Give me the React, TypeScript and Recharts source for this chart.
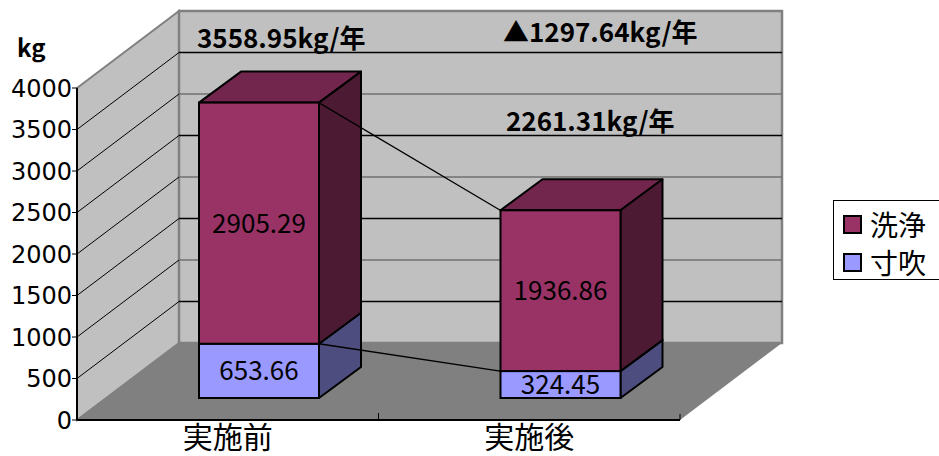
import React from 'react';
import { BarChart, Bar, XAxis, YAxis, ReferenceArea, ReferenceLine, LabelList } from 'recharts';

// ---- data ----
const categories = ['実施前', '実施後'];
const senjouValues = [2905.29, 1936.86]; // 洗浄
const sunbukiValues = [653.66, 324.45]; // 寸吹
const yTicks = [0, 500, 1000, 1500, 2000, 2500, 3000, 3500, 4000];
const gridValues = [500, 1000, 1500, 2000, 2500, 3000, 3500];
const legendNames = ['洗浄', '寸吹'];
const annotationTexts = ['3558.95kg/年', '▲1297.64kg/年', '2261.31kg/年'];
const unitText = 'kg';

const data = categories.map((c, i) => ({
  name: c,
  寸吹: sunbukiValues[i],
  洗浄: senjouValues[i],
}));
const totals = categories.map((_, i) => sunbukiValues[i] + senjouValues[i]);

// ---- styles ----
const W = 939;
const H = 456;
const DX = 102; // wall depth
const DY = -77;
const BX = 31; // bar front-face depth offset
const BY = -22;
const BDX = 42; // bar depth
const BDY = -31;
const BAR_SIZE = 120;
const CJK = '"Noto Sans CJK JP", "Noto Sans", sans-serif';
const colors = {
  洗浄: { front: '#993366', top: '#73264D', side: '#4D1A33' },
  寸吹: { front: '#9999FF', top: '#7373BF', side: '#4D4D80' },
};

const make3DBar = (c: { front: string; top: string; side: string }) => (props: any) => {
  const { x, y, width, height } = props;
  if (x == null || y == null || !width || height == null) return <g />;
  const fx = x + BX;
  const fy = y + BY;
  const pts = (arr: number[][]) => arr.map((p) => p.join(',')).join(' ');
  return (
    <g>
      <polygon
        points={pts([[fx, fy], [fx + BDX, fy + BDY], [fx + width + BDX, fy + BDY], [fx + width, fy]])}
        fill={c.top}
        stroke="#000"
        strokeWidth={2}
        strokeLinejoin="round"
      />
      <polygon
        points={pts([
          [fx + width, fy],
          [fx + width + BDX, fy + BDY],
          [fx + width + BDX, fy + height + BDY],
          [fx + width, fy + height],
        ])}
        fill={c.side}
        stroke="#000"
        strokeWidth={2}
        strokeLinejoin="round"
      />
      <rect x={fx} y={fy} width={width} height={height} fill={c.front} stroke="#000" strokeWidth={2} />
    </g>
  );
};

const wallShape = (props: any) => {
  const { x, y, width, height } = props;
  if (x == null) return <g />;
  const L = x;
  const R = x + width;
  const T = y;
  const B = y + height;
  const pts = (arr: number[][]) => arr.map((p) => p.join(',')).join(' ');
  return (
    <g>
      <polygon points={pts([[L, B], [L + DX, B + DY], [R + DX, B + DY], [R, B]])} fill="#808080" />
      <polygon
        points={pts([[L, T], [L + DX, T + DY], [L + DX, B + DY], [L, B]])}
        fill="#C0C0C0"
        stroke="#808080"
        strokeWidth={2}
      />
      <rect x={L + DX} y={T + DY} width={width} height={height} fill="#C0C0C0" stroke="#808080" strokeWidth={2.5} />
      <line x1={L + width / 2} y1={B} x2={L + width / 2} y2={B - 7} stroke="#000" strokeWidth={1} />
      <line x1={R} y1={B} x2={R} y2={B - 6} stroke="#000" strokeWidth={1} />
    </g>
  );
};

const makeGridShape = (v: number) => (props: any) => {
  const { x1, y1, x2, y2 } = props;
  if (x1 == null) return <g />;
  const col = v % 1000 === 0 ? '#707070' : '#000';
  return (
    <g>
      <line x1={x1} y1={y1} x2={x1 + DX} y2={y1 + DY} stroke="#000" strokeWidth={1} />
      <line x1={x1 + DX} y1={y1 + DY} x2={x2 + DX} y2={y2 + DY} stroke={col} strokeWidth={1.5} />
    </g>
  );
};

const connectorShape = (props: any) => {
  const { x1, y1, x2, y2 } = props;
  if (x1 == null) return <g />;
  return (
    <line
      x1={x1 + BAR_SIZE / 2 + BX}
      y1={y1 + BY}
      x2={x2 - BAR_SIZE / 2 + BX}
      y2={y2 + BY}
      stroke="#000"
      strokeWidth={1.3}
    />
  );
};

const barLabel = (props: any) => {
  const vb = props.viewBox || props;
  const { x, y, width, height } = vb;
  if (x == null) return null;
  return (
    <text
      x={x + width / 2 + BX}
      y={y + height / 2 + BY}
      dy="0.36em"
      textAnchor="middle"
      fontSize={26}
      fontFamily={CJK}
      fill="#000"
    >
      {Number(props.value).toFixed(2)}
    </text>
  );
};

const XTick = (props: any) => {
  const { x, y, payload } = props;
  return (
    <text x={x} y={y + 28} textAnchor="middle" fontSize={30} fontFamily={CJK} fill="#000">
      {payload.value}
    </text>
  );
};

export default function App() {
  return (
    <div style={{ position: 'absolute', left: 0, top: 0, width: W, height: H, overflow: 'hidden', background: '#fff' }}>
      <BarChart
        width={W}
        height={H}
        data={data}
        margin={{ top: 88, right: 259, bottom: 0, left: 0 }}
        barSize={BAR_SIZE}
      >
        <ReferenceArea y1={0} y2={4000} ifOverflow="visible" shape={wallShape} zIndex={100} />
        {gridValues.map((v) => (
          <ReferenceLine key={v} y={v} ifOverflow="visible" shape={makeGridShape(v)} zIndex={150} />
        ))}
        <XAxis
          dataKey="name"
          height={36}
          tickLine={false}
          tickSize={0}
          tickMargin={0}
          axisLine={{ stroke: '#000', strokeWidth: 2 }}
          tick={<XTick />}
          interval={0}
        />
        <YAxis
          width={77}
          domain={[0, 4000]}
          ticks={yTicks}
          interval={0}
          tickSize={5}
          tickMargin={0}
          axisLine={{ stroke: '#000', strokeWidth: 2 }}
          tickLine={{ stroke: '#000', strokeWidth: 1 }}
          tick={{ fill: '#000', fontSize: 24, fontFamily: '"DejaVu Sans", sans-serif' }}
        />
        <Bar dataKey="寸吹" stackId="a" isAnimationActive={false} shape={make3DBar(colors['寸吹'])}>
          <LabelList dataKey="寸吹" content={barLabel} />
        </Bar>
        <Bar dataKey="洗浄" stackId="a" isAnimationActive={false} shape={make3DBar(colors['洗浄'])}>
          <LabelList dataKey="洗浄" content={barLabel} />
        </Bar>
        <ReferenceLine
          ifOverflow="visible"
          segment={[
            { x: categories[0], y: totals[0] },
            { x: categories[1], y: totals[1] },
          ]}
          shape={connectorShape}
          zIndex={400}
        />
        <ReferenceLine
          ifOverflow="visible"
          segment={[
            { x: categories[0], y: sunbukiValues[0] },
            { x: categories[1], y: sunbukiValues[1] },
          ]}
          shape={connectorShape}
          zIndex={400}
        />
      </BarChart>
      <svg
        width={W}
        height={H}
        style={{ position: 'absolute', left: 0, top: 0, pointerEvents: 'none' }}
      >
        <text x={17} y={57} fontSize={24} fontWeight="bold" fontFamily={CJK} fill="#000">
          {unitText}
        </text>
        <text x={197} y={48} fontSize={26} fontWeight="bold" fontFamily={CJK} fill="#000">
          {annotationTexts[0]}
        </text>
        <text x={503} y={42} fontSize={26} fontWeight="bold" fontFamily={CJK} fill="#000">
          {annotationTexts[1]}
        </text>
        <text x={506} y={131} fontSize={26} fontWeight="bold" fontFamily={CJK} fill="#000">
          {annotationTexts[2]}
        </text>
      </svg>
      <div
        style={{
          position: 'absolute',
          left: 833,
          top: 200,
          width: 112,
          height: 80,
          border: '1px solid #000',
          boxSizing: 'border-box',
          fontFamily: CJK,
          fontSize: 28,
          color: '#000',
        }}
      >
        {legendNames.map((n, i) => (
          <div
            key={n}
            style={{ position: 'absolute', left: 9, top: 6 + i * 38, height: 34, display: 'flex', alignItems: 'center' }}
          >
            <span
              style={{
                display: 'inline-block',
                width: 15,
                height: 15,
                background: (colors as any)[n].front,
                border: '2px solid #000',
                marginRight: 8,
              }}
            />
            <span style={{ lineHeight: '34px' }}>{n}</span>
          </div>
        ))}
      </div>
    </div>
  );
}
